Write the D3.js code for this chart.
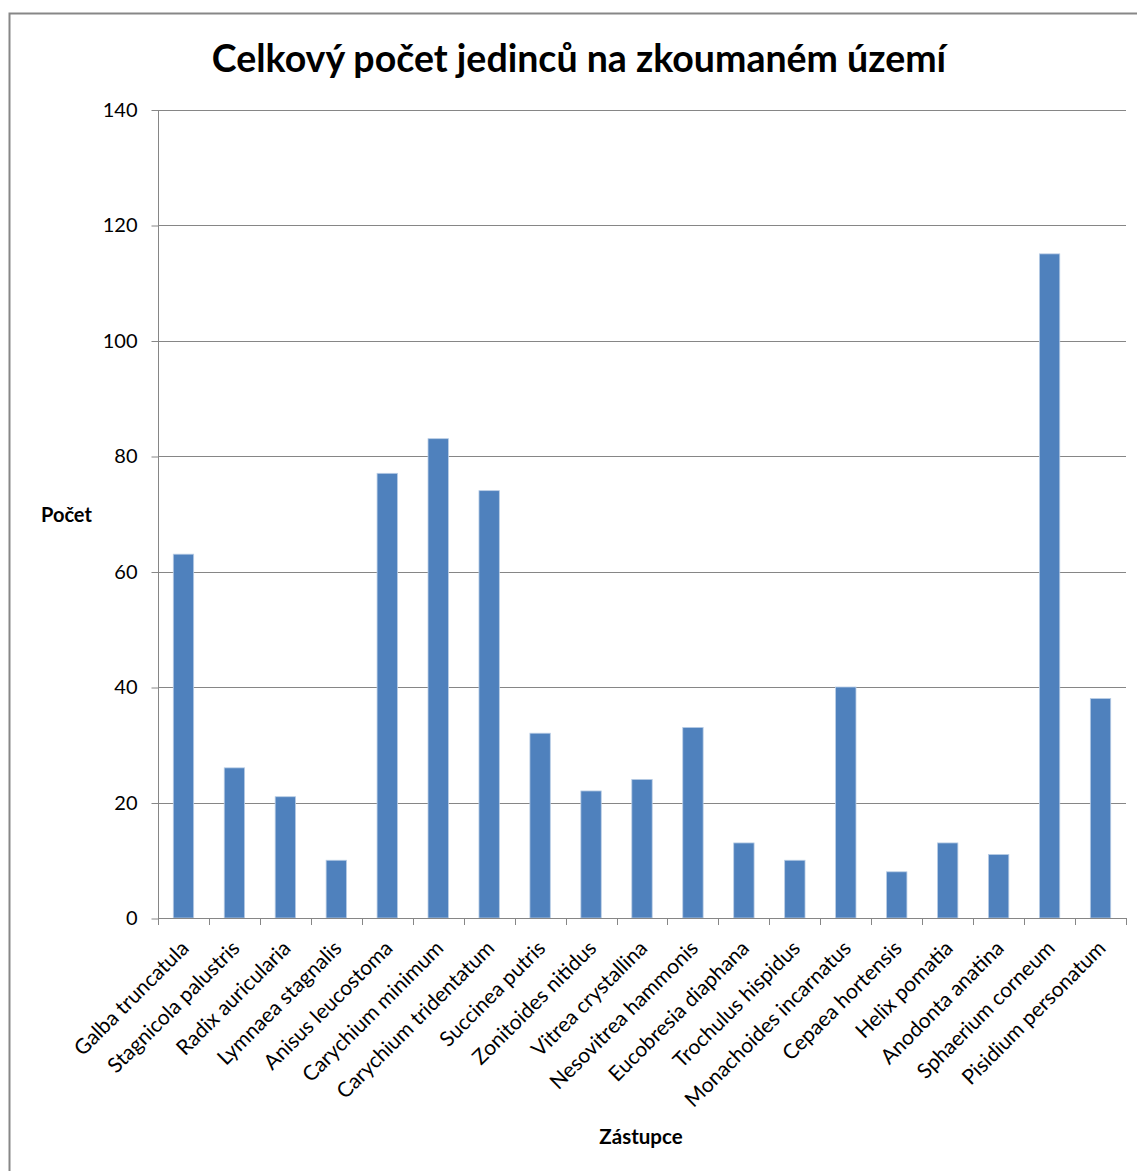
<!DOCTYPE html>
<html>
<head>
<meta charset="utf-8">
<script src="https://cdn.jsdelivr.net/npm/d3@7"></script>
<style>
    body { margin: 0; background: #fff; }
    svg { display: block; }
    .tick text { font-family: Lato, sans-serif; fill: #000; }
</style>
</head>
<body>
<script>
(function () {

    'use strict'

    const species = ['Galba truncatula', 'Stagnicola palustris', 'Radix auricularia', 'Lymnaea stagnalis',
        'Anisus leucostoma', 'Carychium minimum', 'Carychium tridentatum', 'Succinea putris',
        'Zonitoides nitidus', 'Vitrea crystallina', 'Nesovitrea hammonis', 'Eucobresia diaphana',
        'Trochulus hispidus', 'Monachoides incarnatus', 'Cepaea hortensis', 'Helix pomatia',
        'Anodonta anatina', 'Sphaerium corneum', 'Pisidium personatum']
    const counts = [63, 26, 21, 10, 77, 83, 74, 32, 22, 24, 33, 13, 10, 40, 8, 13, 11, 115, 38]
    const yTicks = [0, 20, 40, 60, 80, 100, 120, 140]

    const width = 1137
        , height = 1171
        , plot = { left: 158, right: 1126, top: 109.5, bottom: 918 }

    const svg = d3.select('body')
        .append('svg')
        .attr('width', width)
        .attr('height', height)

    // chart frame (runs off the right and bottom edge)
    svg.append('rect')
        .attr('x', 9.5)
        .attr('y', 13.5)
        .attr('width', 1160)
        .attr('height', 1200)
        .attr('fill', '#fff')
        .attr('stroke', '#878787')
        .attr('stroke-width', 2)

    const xScale = d3.scaleBand()
        .domain(species)
        .range([plot.left, plot.right])
        .paddingInner(0.6)
        .paddingOuter(0.3)

    const yScale = d3.scaleLinear()
        .domain([0, 140])
        .range([plot.bottom, plot.top])

    // gridlines
    svg.append('g')
        .selectAll('line')
        .data(yTicks.filter(d => d > 0))
        .enter()
        .append('line')
        .attr('x1', plot.left)
        .attr('x2', plot.right)
        .attr('y1', d => Math.round(yScale(d)) + 0.5)
        .attr('y2', d => Math.round(yScale(d)) + 0.5)
        .attr('stroke', '#868686')

    // y axis
    const yAxis = svg.append('g')
        .attr('transform', 'translate(' + (plot.left + 0.5) + ',0.5)')
        .call(d3.axisLeft(yScale).tickValues(yTicks).tickSize(7).tickPadding(14))
    yAxis.selectAll('line, path').attr('stroke', '#868686')
    yAxis.select('.domain').attr('d', 'M0,' + plot.top + 'V' + plot.bottom)
    yAxis.selectAll('text').attr('font-size', 20)

    // bars
    svg.append('g')
        .selectAll('rect')
        .data(counts)
        .enter()
        .append('rect')
        .attr('x', (d, i) => xScale(species[i]))
        .attr('y', d => yScale(d))
        .attr('width', xScale.bandwidth())
        .attr('height', d => plot.bottom - yScale(d))
        .attr('fill', '#4f81bd')
        .attr('stroke', '#b9cde5')
        .attr('stroke-width', 0.8)

    // x axis: ticks sit between categories
    const bounds = d3.range(species.length + 1).map(i => plot.left + i * (plot.right - plot.left) / species.length)
    const xAxis = svg.append('g')
    xAxis.append('line')
        .attr('x1', plot.left)
        .attr('x2', plot.right)
        .attr('y1', plot.bottom + 0.5)
        .attr('y2', plot.bottom + 0.5)
        .attr('stroke', '#868686')
    xAxis.selectAll('.xt')
        .data(bounds)
        .enter()
        .append('line')
        .attr('class', 'xt')
        .attr('x1', d => Math.round(d) + 0.5)
        .attr('x2', d => Math.round(d) + 0.5)
        .attr('y1', plot.bottom)
        .attr('y2', plot.bottom + 7)
        .attr('stroke', '#868686')

    // rotated category labels
    xAxis.selectAll('.xl')
        .data(species)
        .enter()
        .append('text')
        .attr('class', 'xl')
        .attr('transform', d => 'translate(' + (xScale(d) + xScale.bandwidth() / 2 - 4) + ',' + (plot.bottom + 21) + ') rotate(-45)')
        .attr('text-anchor', 'end')
        .attr('dy', '0.71em')
        .attr('font-family', 'Lato, sans-serif')
        .attr('font-size', 21)
        .text(d => d)

    // title and axis labels
    svg.append('text')
        .attr('x', 579)
        .attr('y', 72)
        .attr('text-anchor', 'middle')
        .attr('font-family', 'Lato, sans-serif')
        .attr('font-weight', 'bold')
        .attr('font-size', 37.5)
        .text('Celkový počet jedinců na zkoumaném území')

    svg.append('text')
        .attr('x', 41)
        .attr('y', 522)
        .attr('font-family', 'Lato, sans-serif')
        .attr('font-weight', 'bold')
        .attr('font-size', 20)
        .text('Počet')

    svg.append('text')
        .attr('x', 641)
        .attr('y', 1144)
        .attr('text-anchor', 'middle')
        .attr('font-family', 'Lato, sans-serif')
        .attr('font-weight', 'bold')
        .attr('font-size', 20.5)
        .text('Zástupce')
})()
</script>
</body>
</html>
